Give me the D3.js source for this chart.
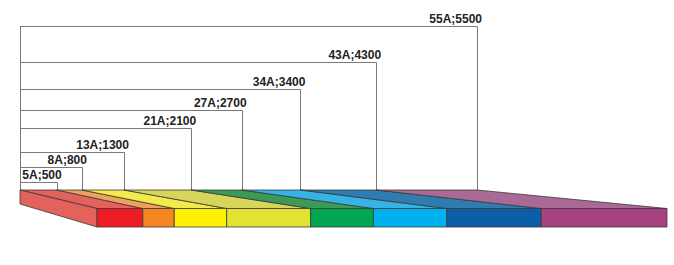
<!DOCTYPE html>
<html>
<head>
<meta charset="utf-8">
<script src="https://cdn.jsdelivr.net/npm/d3@7"></script>
<style>
  html, body { margin: 0; padding: 0; background: #fff; }
  svg { display: block; }
</style>
</head>
<body>
<div id="chart"></div>
<script>
;(function() {
  "use strict";

  // Data
  // ---------------------------------------------------------------------------
  var currents = [5, 8, 13, 21, 27, 34, 43, 55];
  var values = [500, 800, 1300, 2100, 2700, 3400, 4300, 5500];
  var frontColors = ["#ee1c25", "#f6861f", "#fff200", "#e1e232", "#00a650", "#00b0ef", "#0b5fa8", "#a7417f"];
  var topColors = ["#e4625c", "#eea05c", "#f3ea4c", "#d7d65a", "#3b9a56", "#35b3e5", "#2e7cb0", "#a96b95"];

  // Dimensions
  // ---------------------------------------------------------------------------
  var width = 674, height = 265;
  var barLeft = 20, backY = 190, backBottom = 204;
  var frontLeft = 97, frontRight = 667, frontTop = 208.5, frontBottom = 227;

  var x = d3.scaleLinear()
    .domain([0, 5500])
    .range([14.7, 477]);

  var start = x.invert(barLeft);

  var fx = d3.scaleLinear()
    .domain([start, 5500])
    .range([frontLeft, frontRight]);

  // bracket heights
  var y = d3.scaleLinear()
    .domain([500, 800, 5500])
    .range([181.7, 167.3, 26]);

  var edges = [start].concat(values);
  var segs = values.map(function(v, i) {
    return { v0: edges[i], v1: v, front: frontColors[i], top: topColors[i] };
  });

  var svg = d3.select("#chart").append("svg")
    .attr("width", width)
    .attr("height", height);

  // Brackets
  // ---------------------------------------------------------------------------
  var lines = svg.append("g")
    .attr("fill", "none")
    .attr("stroke", "#7a7a7a")
    .attr("stroke-width", 1);

  lines.selectAll("path")
    .data(values)
    .enter().append("path")
      .attr("d", function(d) {
        var xx = Math.round(x(d)) + 0.5, yy = Math.round(y(d)) + 0.5;
        return "M" + (barLeft + 0.5) + "," + yy + "H" + xx + "V" + backY;
      });

  lines.append("path")
    .attr("d", "M" + (barLeft + 0.5) + "," + Math.round(y(5500)) + "V" + backY);

  svg.append("g").selectAll("text")
    .data(values)
    .enter().append("text")
      .attr("x", function(d) { return x(d) + 5; })
      .attr("y", function(d) { return y(d) - 3; })
      .attr("text-anchor", "end")
      .attr("font-family", "Liberation Sans, Arial, sans-serif")
      .attr("font-weight", "bold")
      .attr("font-size", 12)
      .attr("fill", "#222")
      .text(function(d, i) { return currents[i] + "A;" + d; });

  // Bar
  // ---------------------------------------------------------------------------
  var bar = svg.append("g")
    .attr("stroke", "#3a3a3a")
    .attr("stroke-width", 0.8)
    .attr("stroke-linejoin", "round");

  bar.selectAll(".top")
    .data(segs)
    .enter().append("polygon")
      .attr("class", "top")
      .attr("fill", function(d) { return d.top; })
      .attr("points", function(d) {
        return [[x(d.v0), backY], [x(d.v1), backY],
                [fx(d.v1), frontTop], [fx(d.v0), frontTop]].join(" ");
      });

  bar.append("polygon")
    .attr("fill", topColors[0])
    .attr("points", [[barLeft, backY], [frontLeft, frontTop],
                     [frontLeft, frontBottom], [barLeft, backBottom]].join(" "));

  bar.selectAll(".front")
    .data(segs)
    .enter().append("rect")
      .attr("class", "front")
      .attr("fill", function(d) { return d.front; })
      .attr("x", function(d) { return fx(d.v0); })
      .attr("y", frontTop)
      .attr("width", function(d) { return fx(d.v1) - fx(d.v0); })
      .attr("height", frontBottom - frontTop);
})();
</script>
</body>
</html>
